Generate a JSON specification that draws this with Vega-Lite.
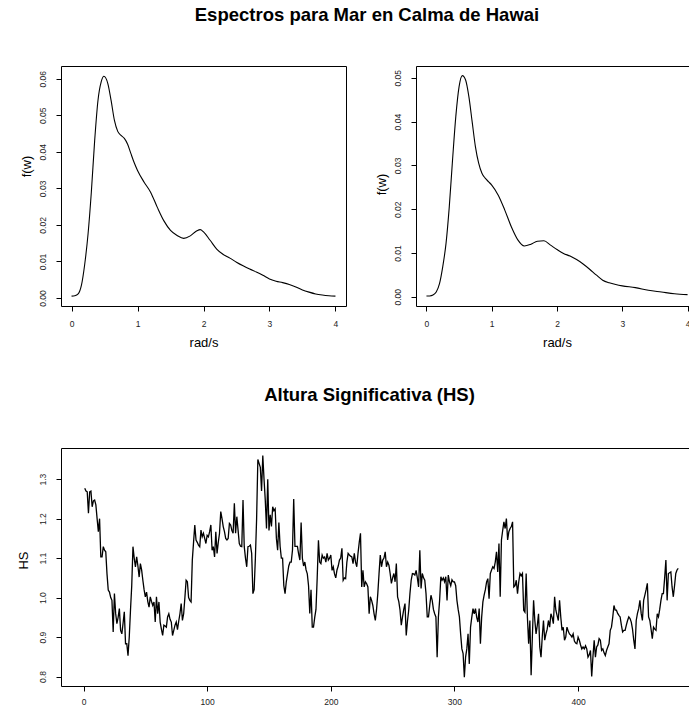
{
"$schema": "https://vega.github.io/schema/vega-lite/v6.json",
"background": "white",
"padding": {"left": 16, "top": 6, "right": -13, "bottom": 0},
"config": {
 "font": "Liberation Sans",
 "view": {"stroke": "black", "strokeWidth": 1},
 "axis": {"grid": false, "domain": false, "tickColor": "black", "tickSize": 5, "labelFont": "Liberation Sans", "labelFontSize": 8.5, "labelColor": "#222", "labelPadding": 9, "titleFont": "Liberation Sans", "titleFontSize": 13, "titleFontWeight": "normal", "titleColor": "black"},
 "axisX": {"labelPadding": 8},
 "title": {"font": "Liberation Sans", "fontSize": 18.5, "fontWeight": "bold", "color": "black"}
},
"datasets": {
 "izq": [
  {"w":0,"f":0.0005},{"w":0.05,"f":0.0006},{"w":0.1,"f":0.0011},{"w":0.15,"f":0.0035},{"w":0.2,"f":0.0093},{"w":0.25,"f":0.0175},{"w":0.3,"f":0.029},{"w":0.35,"f":0.043},{"w":0.4,"f":0.054},{"w":0.45,"f":0.0592},{"w":0.49,"f":0.0607},{"w":0.55,"f":0.0587},{"w":0.6,"f":0.054},{"w":0.65,"f":0.0486},{"w":0.7,"f":0.0456},{"w":0.75,"f":0.0445},{"w":0.8,"f":0.0437},{"w":0.85,"f":0.0421},{"w":0.9,"f":0.0395},{"w":0.95,"f":0.037},{"w":1.0,"f":0.0349},{"w":1.1,"f":0.0317},{"w":1.2,"f":0.0289},{"w":1.3,"f":0.0248},{"w":1.4,"f":0.0211},{"w":1.5,"f":0.0185},{"w":1.6,"f":0.0171},{"w":1.7,"f":0.0163},{"w":1.8,"f":0.017},{"w":1.9,"f":0.0184},{"w":1.95,"f":0.0187},{"w":2.0,"f":0.0181},{"w":2.1,"f":0.0158},{"w":2.2,"f":0.0134},{"w":2.3,"f":0.0119},{"w":2.4,"f":0.0109},{"w":2.5,"f":0.0098},{"w":2.6,"f":0.0088},{"w":2.7,"f":0.0079},{"w":2.8,"f":0.0071},{"w":2.9,"f":0.0062},{"w":3.0,"f":0.0052},{"w":3.1,"f":0.0046},{"w":3.2,"f":0.0042},{"w":3.3,"f":0.0037},{"w":3.4,"f":0.003},{"w":3.5,"f":0.0022},{"w":3.6,"f":0.0016},{"w":3.7,"f":0.0011},{"w":3.8,"f":0.0008},{"w":3.9,"f":0.0006},{"w":4.0,"f":0.0005}
 ],
 "der": [
  {"w":0,"f":0.0002},{"w":0.05,"f":0.0002},{"w":0.1,"f":0.0004},{"w":0.15,"f":0.0011},{"w":0.2,"f":0.003},{"w":0.25,"f":0.0069},{"w":0.3,"f":0.0122},{"w":0.35,"f":0.0206},{"w":0.4,"f":0.0313},{"w":0.45,"f":0.0412},{"w":0.5,"f":0.048},{"w":0.55,"f":0.0505},{"w":0.6,"f":0.0495},{"w":0.65,"f":0.0457},{"w":0.7,"f":0.04},{"w":0.75,"f":0.0343},{"w":0.8,"f":0.0305},{"w":0.85,"f":0.0282},{"w":0.9,"f":0.0271},{"w":0.95,"f":0.0263},{"w":1.0,"f":0.0255},{"w":1.1,"f":0.0232},{"w":1.2,"f":0.0198},{"w":1.3,"f":0.016},{"w":1.4,"f":0.013},{"w":1.5,"f":0.0116},{"w":1.6,"f":0.012},{"w":1.7,"f":0.0127},{"w":1.8,"f":0.0128},{"w":1.9,"f":0.0118},{"w":2.0,"f":0.0108},{"w":2.1,"f":0.0099},{"w":2.2,"f":0.0093},{"w":2.3,"f":0.0085},{"w":2.4,"f":0.0075},{"w":2.5,"f":0.0063},{"w":2.6,"f":0.005},{"w":2.7,"f":0.0038},{"w":2.8,"f":0.0032},{"w":2.9,"f":0.0028},{"w":3.0,"f":0.0025},{"w":3.2,"f":0.0021},{"w":3.4,"f":0.0015},{"w":3.6,"f":0.0011},{"w":3.8,"f":0.0007},{"w":4.0,"f":0.0005}
 ],
 "hs": [
  {"t":1,"hs":1.277},{"t":2,"hs":1.27},{"t":3,"hs":1.268},{"t":4,"hs":1.214},{"t":5,"hs":1.268},{"t":6,"hs":1.27},{"t":7,"hs":1.23},{"t":8,"hs":1.245},{"t":9,"hs":1.247},{"t":10,"hs":1.235},
  {"t":11,"hs":1.2},{"t":12,"hs":1.167},{"t":13,"hs":1.2},{"t":14,"hs":1.103},{"t":15,"hs":1.103},{"t":16,"hs":1.129},{"t":17,"hs":1.12},{"t":18,"hs":1.116},{"t":19,"hs":1.06},{"t":20,"hs":1.019},
  {"t":21,"hs":1.014},{"t":22,"hs":1.0},{"t":23,"hs":0.993},{"t":24,"hs":0.913},{"t":25,"hs":1.01},{"t":26,"hs":0.96},{"t":27,"hs":0.934},{"t":28,"hs":0.95},{"t":29,"hs":0.972},{"t":30,"hs":0.917},
  {"t":31,"hs":0.908},{"t":32,"hs":0.935},{"t":33,"hs":0.964},{"t":34,"hs":0.883},{"t":35,"hs":0.883},{"t":36,"hs":0.853},{"t":37,"hs":0.9},{"t":38,"hs":0.968},{"t":39,"hs":1.03},{"t":40,"hs":1.129},
  {"t":41,"hs":1.1},{"t":42,"hs":1.078},{"t":43,"hs":1.103},{"t":44,"hs":1.08},{"t":45,"hs":1.052},{"t":46,"hs":1.086},{"t":47,"hs":1.07},{"t":48,"hs":1.044},{"t":49,"hs":1.02},{"t":50,"hs":1.002},
  {"t":51,"hs":1.014},{"t":52,"hs":0.99},{"t":53,"hs":0.976},{"t":54,"hs":1.002},{"t":55,"hs":0.99},{"t":56,"hs":0.98},{"t":57,"hs":0.989},{"t":58,"hs":0.938},{"t":59,"hs":1.002},{"t":60,"hs":0.959},
  {"t":61,"hs":0.989},{"t":62,"hs":0.938},{"t":63,"hs":0.92},{"t":64,"hs":0.904},{"t":65,"hs":0.93},{"t":66,"hs":0.928},{"t":67,"hs":0.925},{"t":68,"hs":0.951},{"t":69,"hs":0.959},{"t":70,"hs":0.945},
  {"t":71,"hs":0.938},{"t":72,"hs":0.904},{"t":73,"hs":0.917},{"t":74,"hs":0.93},{"t":75,"hs":0.938},{"t":76,"hs":0.919},{"t":77,"hs":0.94},{"t":78,"hs":0.959},{"t":79,"hs":0.985},{"t":80,"hs":0.942},
  {"t":81,"hs":0.959},{"t":82,"hs":1.0},{"t":83,"hs":1.044},{"t":84,"hs":1.04},{"t":85,"hs":1.0},{"t":86,"hs":0.993},{"t":87,"hs":0.989},{"t":88,"hs":1.095},{"t":89,"hs":1.14},{"t":90,"hs":1.184},
  {"t":91,"hs":1.146},{"t":92,"hs":1.14},{"t":93,"hs":1.133},{"t":94,"hs":1.129},{"t":95,"hs":1.171},{"t":96,"hs":1.154},{"t":97,"hs":1.163},{"t":98,"hs":1.15},{"t":99,"hs":1.137},{"t":100,"hs":1.158},
  {"t":101,"hs":1.154},{"t":102,"hs":1.167},{"t":103,"hs":1.184},{"t":104,"hs":1.12},{"t":105,"hs":1.129},{"t":106,"hs":1.103},{"t":107,"hs":1.167},{"t":108,"hs":1.112},{"t":109,"hs":1.14},{"t":110,"hs":1.163},
  {"t":111,"hs":1.218},{"t":112,"hs":1.2},{"t":113,"hs":1.18},{"t":114,"hs":1.167},{"t":115,"hs":1.15},{"t":116,"hs":1.146},{"t":117,"hs":1.15},{"t":118,"hs":1.188},{"t":119,"hs":1.184},{"t":120,"hs":1.17},
  {"t":121,"hs":1.163},{"t":122,"hs":1.239},{"t":123,"hs":1.163},{"t":124,"hs":1.205},{"t":125,"hs":1.171},{"t":126,"hs":1.137},{"t":127,"hs":1.13},{"t":128,"hs":1.129},{"t":129,"hs":1.247},{"t":130,"hs":1.129},
  {"t":131,"hs":1.1},{"t":132,"hs":1.078},{"t":133,"hs":1.129},{"t":134,"hs":1.13},{"t":135,"hs":1.133},{"t":136,"hs":1.112},{"t":137,"hs":1.01},{"t":138,"hs":1.02},{"t":139,"hs":1.1},{"t":140,"hs":1.2},
  {"t":141,"hs":1.35},{"t":142,"hs":1.34},{"t":143,"hs":1.33},{"t":144,"hs":1.27},{"t":145,"hs":1.36},{"t":146,"hs":1.3},{"t":147,"hs":1.247},{"t":148,"hs":1.175},{"t":149,"hs":1.3},{"t":150,"hs":1.17},
  {"t":151,"hs":1.21},{"t":152,"hs":1.18},{"t":153,"hs":1.23},{"t":154,"hs":1.22},{"t":155,"hs":1.225},{"t":156,"hs":1.15},{"t":157,"hs":1.12},{"t":158,"hs":1.19},{"t":159,"hs":1.13},{"t":160,"hs":1.1},
  {"t":161,"hs":1.1},{"t":162,"hs":1.03},{"t":163,"hs":1.01},{"t":164,"hs":1.04},{"t":165,"hs":1.06},{"t":166,"hs":1.08},{"t":167,"hs":1.09},{"t":168,"hs":1.09},{"t":169,"hs":1.12},{"t":170,"hs":1.25},
  {"t":171,"hs":1.13},{"t":172,"hs":1.13},{"t":173,"hs":1.13},{"t":174,"hs":1.11},{"t":175,"hs":1.095},{"t":176,"hs":1.19},{"t":177,"hs":1.1},{"t":178,"hs":1.08},{"t":179,"hs":1.09},{"t":180,"hs":1.07},
  {"t":181,"hs":1.06},{"t":182,"hs":1.03},{"t":183,"hs":0.96},{"t":184,"hs":1.02},{"t":185,"hs":0.925},{"t":186,"hs":0.925},{"t":187,"hs":0.95},{"t":188,"hs":0.97},{"t":189,"hs":1.05},{"t":190,"hs":1.145},
  {"t":191,"hs":1.09},{"t":192,"hs":1.086},{"t":193,"hs":1.108},{"t":194,"hs":1.1},{"t":195,"hs":1.103},{"t":196,"hs":1.09},{"t":197,"hs":1.112},{"t":198,"hs":1.095},{"t":199,"hs":1.1},{"t":200,"hs":1.108},
  {"t":201,"hs":1.069},{"t":202,"hs":1.078},{"t":203,"hs":1.06},{"t":204,"hs":1.05},{"t":205,"hs":1.07},{"t":206,"hs":1.08},{"t":207,"hs":1.095},{"t":208,"hs":1.1},{"t":209,"hs":1.125},{"t":210,"hs":1.044},
  {"t":211,"hs":1.05},{"t":212,"hs":1.048},{"t":213,"hs":1.09},{"t":214,"hs":1.112},{"t":215,"hs":1.108},{"t":216,"hs":1.105},{"t":217,"hs":1.103},{"t":218,"hs":1.086},{"t":219,"hs":1.112},{"t":220,"hs":1.09},
  {"t":221,"hs":1.078},{"t":222,"hs":1.112},{"t":223,"hs":1.14},{"t":224,"hs":1.163},{"t":225,"hs":1.027},{"t":226,"hs":1.069},{"t":227,"hs":1.027},{"t":228,"hs":1.04},{"t":229,"hs":1.035},{"t":230,"hs":1.027},
  {"t":231,"hs":0.959},{"t":232,"hs":1.002},{"t":233,"hs":0.993},{"t":234,"hs":0.98},{"t":235,"hs":0.959},{"t":236,"hs":0.942},{"t":237,"hs":0.97},{"t":238,"hs":1.01},{"t":239,"hs":1.06},{"t":240,"hs":1.108},
  {"t":241,"hs":1.078},{"t":242,"hs":1.095},{"t":243,"hs":1.1},{"t":244,"hs":1.116},{"t":245,"hs":1.078},{"t":246,"hs":1.09},{"t":247,"hs":1.082},{"t":248,"hs":1.061},{"t":249,"hs":1.036},{"t":250,"hs":1.05},
  {"t":251,"hs":1.061},{"t":252,"hs":1.04},{"t":253,"hs":1.086},{"t":254,"hs":1.002},{"t":255,"hs":0.99},{"t":256,"hs":0.968},{"t":257,"hs":0.93},{"t":258,"hs":0.951},{"t":259,"hs":0.97},{"t":260,"hs":0.985},
  {"t":261,"hs":0.904},{"t":262,"hs":0.94},{"t":263,"hs":0.968},{"t":264,"hs":1.01},{"t":265,"hs":1.044},{"t":266,"hs":1.061},{"t":267,"hs":1.06},{"t":268,"hs":1.057},{"t":269,"hs":1.069},{"t":270,"hs":1.05},
  {"t":271,"hs":1.027},{"t":272,"hs":1.12},{"t":273,"hs":1.023},{"t":274,"hs":1.061},{"t":275,"hs":1.05},{"t":276,"hs":1.044},{"t":277,"hs":1.01},{"t":278,"hs":0.951},{"t":279,"hs":0.951},{"t":280,"hs":0.98},
  {"t":281,"hs":1.006},{"t":282,"hs":0.993},{"t":283,"hs":0.97},{"t":284,"hs":0.959},{"t":285,"hs":0.951},{"t":286,"hs":0.849},{"t":287,"hs":0.95},{"t":288,"hs":0.993},{"t":289,"hs":1.053},{"t":290,"hs":1.044},
  {"t":291,"hs":1.05},{"t":292,"hs":1.04},{"t":293,"hs":1.053},{"t":294,"hs":0.993},{"t":295,"hs":1.057},{"t":296,"hs":1.04},{"t":297,"hs":1.03},{"t":298,"hs":1.045},{"t":299,"hs":1.04},{"t":300,"hs":1.04},
  {"t":301,"hs":1.03},{"t":302,"hs":0.993},{"t":303,"hs":0.97},{"t":304,"hs":0.951},{"t":305,"hs":0.908},{"t":306,"hs":0.87},{"t":307,"hs":0.858},{"t":308,"hs":0.798},{"t":309,"hs":0.849},{"t":310,"hs":0.87},
  {"t":311,"hs":0.908},{"t":312,"hs":0.832},{"t":313,"hs":0.925},{"t":314,"hs":0.95},{"t":315,"hs":0.972},{"t":316,"hs":0.959},{"t":317,"hs":0.972},{"t":318,"hs":0.95},{"t":319,"hs":0.938},{"t":320,"hs":0.972},
  {"t":321,"hs":0.883},{"t":322,"hs":0.95},{"t":323,"hs":0.989},{"t":324,"hs":1.006},{"t":325,"hs":1.02},{"t":326,"hs":1.04},{"t":327,"hs":1.048},{"t":328,"hs":0.997},{"t":329,"hs":1.061},{"t":330,"hs":1.07},
  {"t":331,"hs":1.078},{"t":332,"hs":1.074},{"t":333,"hs":1.09},{"t":334,"hs":1.116},{"t":335,"hs":1.065},{"t":336,"hs":1.137},{"t":337,"hs":1.002},{"t":338,"hs":1.146},{"t":339,"hs":1.17},{"t":340,"hs":1.192},
  {"t":341,"hs":1.175},{"t":342,"hs":1.2},{"t":343,"hs":1.146},{"t":344,"hs":1.167},{"t":345,"hs":1.175},{"t":346,"hs":1.18},{"t":347,"hs":1.192},{"t":348,"hs":1.027},{"t":349,"hs":1.03},{"t":350,"hs":1.044},
  {"t":351,"hs":1.01},{"t":352,"hs":1.04},{"t":353,"hs":1.061},{"t":354,"hs":1.055},{"t":355,"hs":1.061},{"t":356,"hs":0.968},{"t":357,"hs":0.963},{"t":358,"hs":1.061},{"t":359,"hs":0.95},{"t":360,"hs":0.883},
  {"t":361,"hs":0.942},{"t":362,"hs":0.803},{"t":363,"hs":0.9},{"t":364,"hs":0.993},{"t":365,"hs":0.942},{"t":366,"hs":0.908},{"t":367,"hs":0.93},{"t":368,"hs":0.959},{"t":369,"hs":0.875},{"t":370,"hs":0.849},
  {"t":371,"hs":0.9},{"t":372,"hs":0.942},{"t":373,"hs":0.892},{"t":374,"hs":0.908},{"t":375,"hs":0.92},{"t":376,"hs":0.942},{"t":377,"hs":0.925},{"t":378,"hs":0.959},{"t":379,"hs":0.95},{"t":380,"hs":0.934},
  {"t":381,"hs":1.002},{"t":382,"hs":0.968},{"t":383,"hs":0.955},{"t":384,"hs":0.942},{"t":385,"hs":0.993},{"t":386,"hs":0.95},{"t":387,"hs":0.917},{"t":388,"hs":0.925},{"t":389,"hs":0.892},{"t":390,"hs":0.9},
  {"t":391,"hs":0.925},{"t":392,"hs":0.915},{"t":393,"hs":0.908},{"t":394,"hs":0.905},{"t":395,"hs":0.9},{"t":396,"hs":0.908},{"t":397,"hs":0.89},{"t":398,"hs":0.885},{"t":399,"hs":0.883},{"t":400,"hs":0.9},
  {"t":401,"hs":0.892},{"t":402,"hs":0.88},{"t":403,"hs":0.87},{"t":404,"hs":0.875},{"t":405,"hs":0.87},{"t":406,"hs":0.878},{"t":407,"hs":0.87},{"t":408,"hs":0.849},{"t":409,"hs":0.855},{"t":410,"hs":0.866},
  {"t":411,"hs":0.8},{"t":412,"hs":0.85},{"t":413,"hs":0.892},{"t":414,"hs":0.849},{"t":415,"hs":0.875},{"t":416,"hs":0.88},{"t":417,"hs":0.896},{"t":418,"hs":0.892},{"t":419,"hs":0.866},{"t":420,"hs":0.87},
  {"t":421,"hs":0.86},{"t":422,"hs":0.853},{"t":423,"hs":0.866},{"t":424,"hs":0.875},{"t":425,"hs":0.883},{"t":426,"hs":0.917},{"t":427,"hs":0.925},{"t":428,"hs":0.95},{"t":429,"hs":0.98},{"t":430,"hs":0.968},
  {"t":431,"hs":0.968},{"t":432,"hs":0.96},{"t":433,"hs":0.955},{"t":434,"hs":0.951},{"t":435,"hs":0.93},{"t":436,"hs":0.913},{"t":437,"hs":0.917},{"t":438,"hs":0.917},{"t":439,"hs":0.93},{"t":440,"hs":0.942},
  {"t":441,"hs":0.951},{"t":442,"hs":0.947},{"t":443,"hs":0.938},{"t":444,"hs":0.92},{"t":445,"hs":0.892},{"t":446,"hs":0.87},{"t":447,"hs":0.942},{"t":448,"hs":0.96},{"t":449,"hs":0.972},{"t":450,"hs":0.993},
  {"t":451,"hs":0.96},{"t":452,"hs":0.942},{"t":453,"hs":0.993},{"t":454,"hs":1.006},{"t":455,"hs":1.02},{"t":456,"hs":1.036},{"t":457,"hs":0.951},{"t":458,"hs":0.942},{"t":459,"hs":0.92},{"t":460,"hs":0.896},
  {"t":461,"hs":0.925},{"t":462,"hs":0.92},{"t":463,"hs":0.917},{"t":464,"hs":0.959},{"t":465,"hs":0.951},{"t":466,"hs":0.97},{"t":467,"hs":0.993},{"t":468,"hs":1.01},{"t":469,"hs":1.01},{"t":470,"hs":1.05},
  {"t":471,"hs":1.095},{"t":472,"hs":0.993},{"t":473,"hs":1.061},{"t":474,"hs":1.063},{"t":475,"hs":1.065},{"t":476,"hs":1.027},{"t":477,"hs":1.002},{"t":478,"hs":1.03},{"t":479,"hs":1.061},{"t":480,"hs":1.07},
  {"t":481,"hs":1.074}
 ]
},
"vconcat": [
 {
  "title": {"text": "Espectros para Mar en Calma de Hawai", "anchor": "middle", "dx": 8, "offset": 41},
  "bounds": "flush",
  "spacing": 70,
  "hconcat": [
   {
    "data": {"name": "izq"},
    "width": 285, "height": 240,
    "mark": {"type": "line", "color": "black", "strokeWidth": 1.1, "interpolate": "monotone", "clip": true},
    "encoding": {
     "x": {"field": "w", "type": "quantitative", "scale": {"domain": [-0.16, 4.16], "nice": false, "zero": false},
           "axis": {"values": [0, 1, 2, 3, 4], "title": "rad/s", "titlePadding": 9, "labelFlush": false}},
     "y": {"field": "f", "type": "quantitative", "scale": {"domain": [-0.0022, 0.0635], "nice": false, "zero": false},
           "axis": {"values": [0, 0.01, 0.02, 0.03, 0.04, 0.05, 0.06], "format": ".2f", "labelAngle": -90, "labelAlign": "center", "labelBaseline": "bottom", "labelFlush": false,
                    "title": "f(w)", "titleX": -35, "titleY": 100, "titleAngle": -90, "titleAlign": "center", "titleBaseline": "middle"}}
    }
   },
   {
    "data": {"name": "der"},
    "width": 282, "height": 240,
    "mark": {"type": "line", "color": "black", "strokeWidth": 1.1, "interpolate": "monotone", "clip": true},
    "encoding": {
     "x": {"field": "w", "type": "quantitative", "scale": {"domain": [-0.16, 4.16], "nice": false, "zero": false},
           "axis": {"values": [0, 1, 2, 3, 4], "title": "rad/s", "titlePadding": 9, "labelFlush": false}},
     "y": {"field": "f", "type": "quantitative", "scale": {"domain": [-0.0021, 0.0527], "nice": false, "zero": false},
           "axis": {"values": [0, 0.01, 0.02, 0.03, 0.04, 0.05], "format": ".2f", "labelAngle": -90, "labelAlign": "center", "labelBaseline": "bottom", "labelFlush": false,
                    "title": "f(w)", "titleX": -35, "titleY": 118, "titleAngle": -90, "titleAlign": "center", "titleBaseline": "middle"}}
    }
   }
  ]
 },
 {
  "title": {"text": "Altura Significativa (HS)", "anchor": "middle", "dx": -12, "offset": 44},
  "data": {"name": "hs"},
  "width": 641, "height": 238,
  "mark": {"type": "line", "color": "black", "strokeWidth": 1.3, "clip": true},
  "encoding": {
   "x": {"field": "t", "type": "quantitative", "scale": {"domain": [-18.2, 500.2], "nice": false, "zero": false},
         "axis": {"values": [0, 100, 200, 300, 400], "title": null, "labelFlush": false, "labelPadding": 6}},
   "y": {"field": "hs", "type": "quantitative", "scale": {"domain": [0.776, 1.379], "nice": false, "zero": false},
         "axis": {"values": [0.8, 0.9, 1.0, 1.1, 1.2, 1.3], "format": ".1f", "labelAngle": -90, "labelAlign": "center", "labelBaseline": "bottom", "labelFlush": false,
                  "title": "HS", "titleX": -38, "titleY": 112, "titleAngle": -90, "titleAlign": "center", "titleBaseline": "middle"}}
  }
 }
],
"spacing": 382,
"bounds": "flush"
}
